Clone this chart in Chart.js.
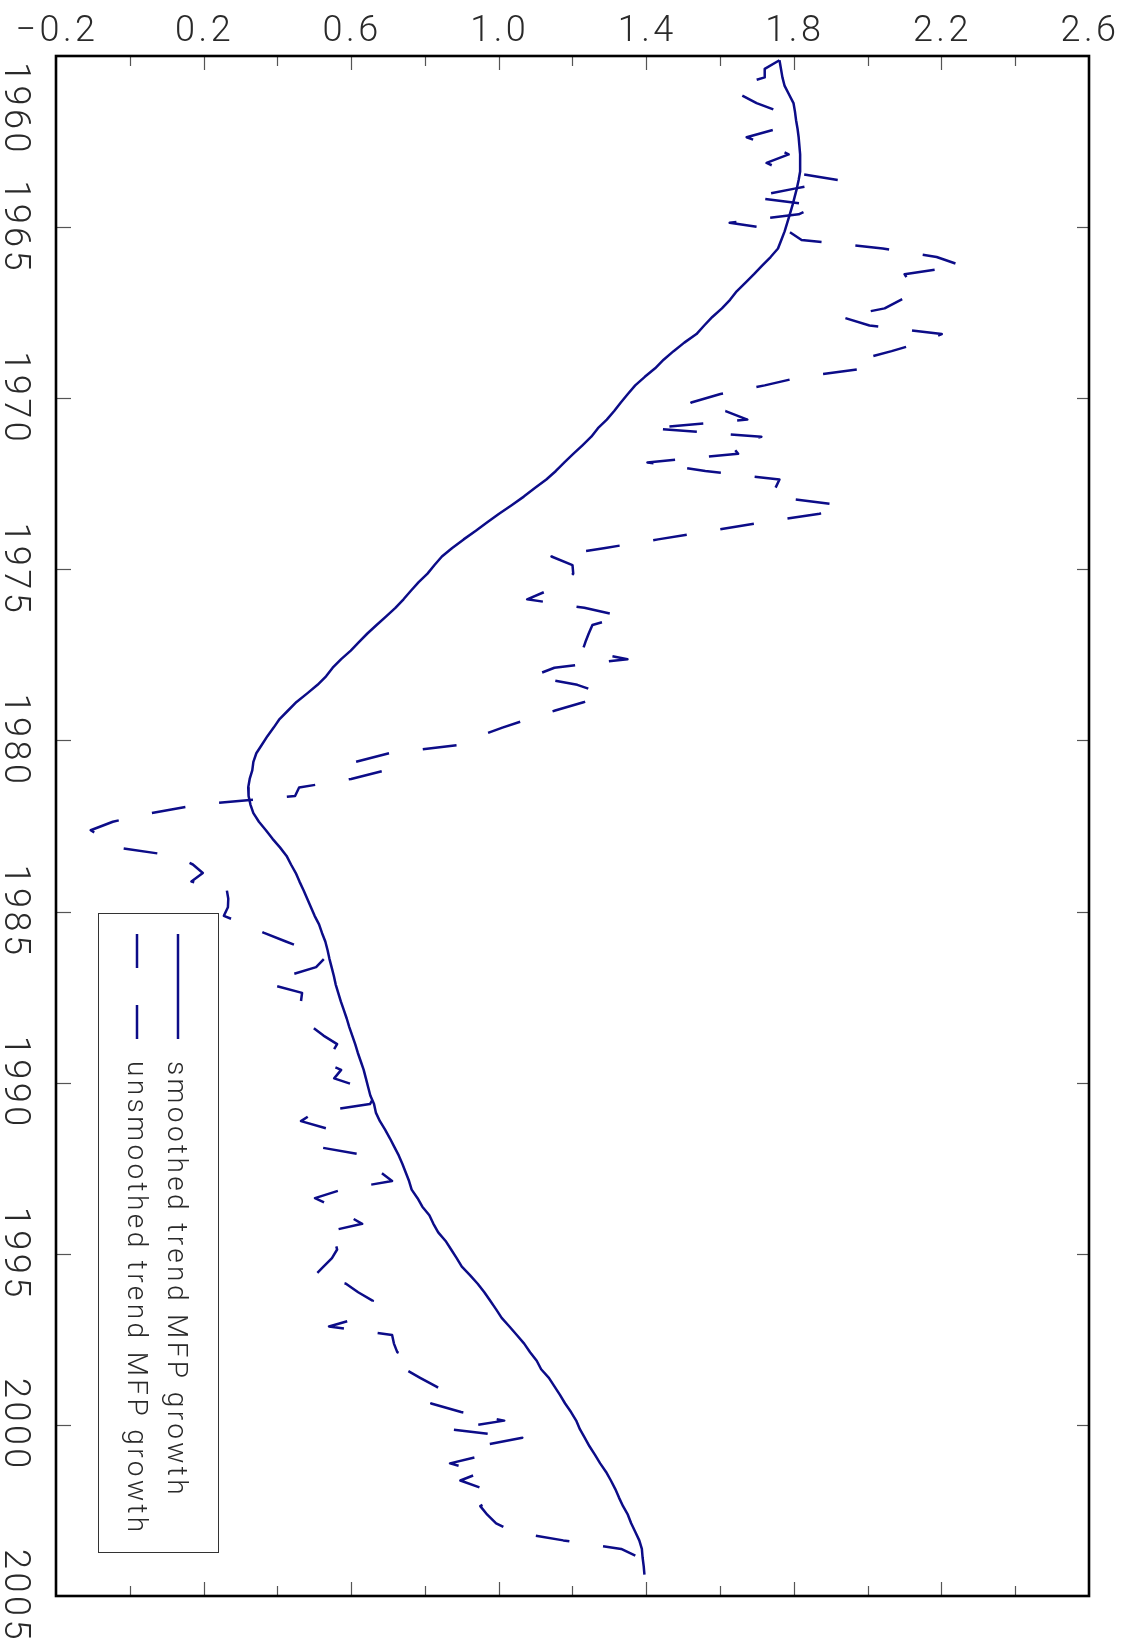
<!DOCTYPE html>
<html>
<head>
<meta charset="utf-8">
<title>Trend MFP growth</title>
<script src="https://cdn.jsdelivr.net/npm/chart.js@4/dist/chart.umd.min.js"></script>
<style>
  html, body { margin: 0; padding: 0; background: #fff; }
  canvas { display: block; }
</style>
</head>
<body>
<canvas id="mfp" width="1129" height="1650"></canvas>
<script>
// Quarterly observations, 1960Q1 .. 2004Q2, placed at the middle of each quarter
const firstQuarter = 1960.125;
const quarterCount = 178;
const quarters = Array.from({ length: quarterCount }, (_, i) => firstQuarter + i * 0.25);

// Smoothed trend MFP growth (per cent)
const smoothedTrend = [
  1.761, 1.765, 1.769, 1.775, 1.787, 1.799, 1.803, 1.806, 1.810, 1.813,
  1.815, 1.817, 1.817, 1.817, 1.813, 1.808, 1.802, 1.796, 1.789, 1.782,
  1.775, 1.766, 1.757, 1.737, 1.714, 1.692, 1.669, 1.645, 1.627, 1.605,
  1.579, 1.557, 1.536, 1.503, 1.474, 1.447, 1.424, 1.396, 1.370, 1.350,
  1.331, 1.313, 1.293, 1.269, 1.251, 1.227, 1.202, 1.178, 1.155, 1.129,
  1.098, 1.068, 1.035, 1.001, 0.969, 0.938, 0.905, 0.874, 0.846, 0.826,
  0.807, 0.783, 0.762, 0.742, 0.720, 0.695, 0.669, 0.644, 0.621, 0.599,
  0.573, 0.550, 0.532, 0.509, 0.481, 0.452, 0.429, 0.406, 0.390, 0.373,
  0.358, 0.343, 0.335, 0.332, 0.325, 0.321, 0.322, 0.327, 0.335, 0.350,
  0.369, 0.387, 0.407, 0.425, 0.437, 0.450, 0.460, 0.471, 0.481, 0.491,
  0.501, 0.513, 0.521, 0.530, 0.536, 0.541, 0.547, 0.553, 0.558, 0.565,
  0.572, 0.580, 0.588, 0.595, 0.603, 0.611, 0.618, 0.626, 0.634, 0.640,
  0.646, 0.652, 0.662, 0.667, 0.678, 0.692, 0.705, 0.717, 0.729, 0.739,
  0.748, 0.757, 0.764, 0.780, 0.793, 0.812, 0.823, 0.836, 0.856, 0.871,
  0.886, 0.900, 0.922, 0.943, 0.961, 0.977, 0.993, 1.008, 1.029, 1.049,
  1.069, 1.085, 1.103, 1.115, 1.136, 1.151, 1.166, 1.180, 1.196, 1.210,
  1.220, 1.233, 1.246, 1.261, 1.275, 1.291, 1.304, 1.316, 1.326, 1.337,
  1.350, 1.359, 1.370, 1.381, 1.388, 1.390, 1.393, 1.395
];

// Unsmoothed trend MFP growth (per cent)
const unsmoothedTrend = [
  1.761, 1.721, 1.721, 1.642, 1.655, 1.699, 1.761, 1.778, 1.756, 1.672,
  1.737, 1.786, 1.726, 1.778, 1.919, 1.802, 1.685, 1.864, 1.813, 1.626,
  1.786, 1.821, 2.041, 2.187, 2.255, 2.100, 2.114, 2.133, 2.090, 2.046,
  1.929, 2.005, 2.201, 2.144, 2.065, 1.978, 1.995, 1.821, 1.721, 1.601,
  1.522, 1.615, 1.674, 1.408, 1.712, 1.631, 1.649, 1.403, 1.560, 1.761,
  1.750, 1.740, 1.929, 1.870, 1.716, 1.574, 1.432, 1.289, 1.143, 1.200,
  1.202, 1.183, 1.132, 1.077, 1.232, 1.335, 1.254, 1.244, 1.235, 1.227,
  1.349, 1.151, 1.091, 1.213, 1.281, 1.232, 1.153, 1.080, 1.010, 0.947,
  0.896, 0.703, 0.613, 0.692, 0.600, 0.459, 0.448, 0.185, 0.057, -0.046,
  -0.106, -0.068, -0.035, 0.122, 0.171, 0.198, 0.167, 0.263, 0.267, 0.266,
  0.255, 0.312, 0.364, 0.423, 0.484, 0.527, 0.505, 0.429, 0.380, 0.467,
  0.464, 0.459, 0.464, 0.495, 0.525, 0.562, 0.548, 0.518, 0.573, 0.554,
  0.624, 0.665, 0.651, 0.499, 0.464, 0.546, 0.521, 0.508, 0.640, 0.651,
  0.681, 0.711, 0.575, 0.502, 0.551, 0.589, 0.630, 0.527, 0.556, 0.562,
  0.548, 0.525, 0.502, 0.586, 0.619, 0.659, 0.646, 0.621, 0.540, 0.711,
  0.716, 0.725, 0.771, 0.746, 0.787, 0.830, 0.868, 0.817, 0.898, 1.015,
  0.866, 1.064, 0.944, 0.963, 0.868, 0.955, 0.896, 0.961, 0.991, 0.950,
  0.969, 0.993, 1.039, 1.175, 1.332, 1.381, 1.370, 1.362
];

// Value axis (top, with mirrored marks along the bottom)
const valueMin = -0.2;
const valueMax = 2.6;
const valueLabelAt = [-0.2, 0.2, 0.6, 1.0, 1.4, 1.8, 2.2, 2.6];
const valueLabels = ['\u22120.2', '0.2', '0.6', '1.0', '1.4', '1.8', '2.2', '2.6'];
const valueTickMarks = [0.0, 0.2, 0.4, 0.6, 0.8, 1.0, 1.2, 1.4, 1.6, 1.8, 2.0, 2.2, 2.4];

// Time axis (left, with mirrored marks along the right)
const yearMin = 1960;
const yearMax = 2005;
const yearTicks = [1960, 1965, 1970, 1975, 1980, 1985, 1990, 1995, 2000, 2005];

const seriesNames = ['smoothed trend MFP growth', 'unsmoothed trend MFP growth'];

const LINE_COLOR = '#0c0c88';
const TEXT_COLOR = '#2a2a2a';
const TICK_COLOR = '#555555';
const FONT = 'Roboto, "DejaVu Sans", sans-serif';
const DASH = [34, 34];

function toPoints(values) {
  return values.map((v, i) => ({ x: v, y: quarters[i] }));
}

function stroke(ctx, x1, y1, x2, y2) {
  ctx.beginPath();
  ctx.moveTo(x1, y1);
  ctx.lineTo(x2, y2);
  ctx.stroke();
}

// Frame, inward tick marks, rotated year labels and the boxed legend
const frameAndLabels = {
  id: 'frameAndLabels',
  afterDatasetsDraw(chart) {
    const { ctx, chartArea: a, scales } = chart;
    const xs = scales.x, ys = scales.y;
    ctx.save();

    // value-axis marks, top and bottom
    ctx.strokeStyle = TICK_COLOR;
    ctx.lineWidth = 1.2;
    valueTickMarks.forEach(v => {
      const px = Math.round(xs.getPixelForValue(v)) + 0.5;
      const major = valueLabelAt.some(l => Math.abs(l - v) < 1e-9);
      const len = major ? 14 : 10;
      stroke(ctx, px, a.top, px, a.top + len);
      stroke(ctx, px, a.bottom, px, a.bottom - len);
    });

    // year marks, left and right
    yearTicks.forEach(yr => {
      if (yr <= yearMin || yr >= yearMax) return;
      const py = Math.round(ys.getPixelForValue(yr)) + 0.5;
      stroke(ctx, a.left, py, a.left + 15, py);
      stroke(ctx, a.right, py, a.right - 12, py);
    });

    // plot frame
    ctx.strokeStyle = '#000';
    ctx.lineWidth = 2.6;
    ctx.strokeRect(a.left, a.top, a.right - a.left, a.bottom - a.top);

    // value labels across the top
    ctx.fillStyle = TEXT_COLOR;
    ctx.font = '300 36px ' + FONT;
    ctx.letterSpacing = '3.5px';
    ctx.textAlign = 'center';
    ctx.textBaseline = 'alphabetic';
    valueLabelAt.forEach((v, i) => {
      ctx.fillText(valueLabels[i], xs.getPixelForValue(v) + 1, 41);
    });

    // year labels, turned to read downwards
    yearTicks.forEach(yr => {
      const py = ys.getPixelForValue(yr);
      const text = String(yr);
      const w = ctx.measureText(text).width;
      let start = py - w / 2;
      if (start < a.top) start = a.top + 6;   // keep the first label inside the top edge
      ctx.save();
      ctx.translate(5, start);
      ctx.rotate(Math.PI / 2);
      ctx.textAlign = 'left';
      ctx.fillText(text, 0, 0);
      ctx.restore();
    });

    // legend box
    const box = { x: 98.5, y: 913.5, w: 120, h: 639 };
    ctx.fillStyle = '#fff';
    ctx.fillRect(box.x, box.y, box.w, box.h);
    ctx.strokeStyle = '#333';
    ctx.lineWidth = 1;
    ctx.strokeRect(box.x, box.y, box.w, box.h);

    const rows = [
      { lineX: 178, textX: 168, dash: [] },
      { lineX: 137, textX: 128, dash: [34, 37] }
    ];
    rows.forEach((r, i) => {
      ctx.strokeStyle = LINE_COLOR;
      ctx.lineWidth = 2.5;
      ctx.setLineDash(r.dash);
      stroke(ctx, r.lineX, 934, r.lineX, 1039);
      ctx.setLineDash([]);
      ctx.save();
      ctx.translate(r.textX, 1061);
      ctx.rotate(Math.PI / 2);
      ctx.fillStyle = TEXT_COLOR;
      ctx.font = '300 28px ' + FONT;
      ctx.letterSpacing = '3.4px';
      ctx.textAlign = 'left';
      ctx.fillText(seriesNames[i], 0, 0);
      ctx.restore();
    });

    ctx.restore();
  }
};

new Chart(document.getElementById('mfp'), {
  type: 'line',
  data: {
    datasets: [
      {
        label: seriesNames[0],
        data: toPoints(smoothedTrend),
        borderColor: LINE_COLOR,
        borderWidth: 2.5,
        borderJoinStyle: 'round',
        pointRadius: 0,
        tension: 0,
        fill: false
      },
      {
        label: seriesNames[1],
        data: toPoints(unsmoothedTrend),
        borderColor: LINE_COLOR,
        borderWidth: 2.5,
        borderDash: DASH,
        borderJoinStyle: 'round',
        pointRadius: 0,
        tension: 0,
        fill: false
      }
    ]
  },
  options: {
    indexAxis: 'y',
    responsive: false,
    animation: false,
    devicePixelRatio: 1,
    layout: { padding: { left: 56, right: 40, top: 56, bottom: 54 } },
    plugins: { legend: { display: false }, tooltip: { enabled: false } },
    scales: {
      x: { type: 'linear', display: false, min: valueMin, max: valueMax },
      y: { type: 'linear', display: false, min: yearMin, max: yearMax, reverse: true }
    }
  },
  plugins: [frameAndLabels]
});
</script>
</body>
</html>
